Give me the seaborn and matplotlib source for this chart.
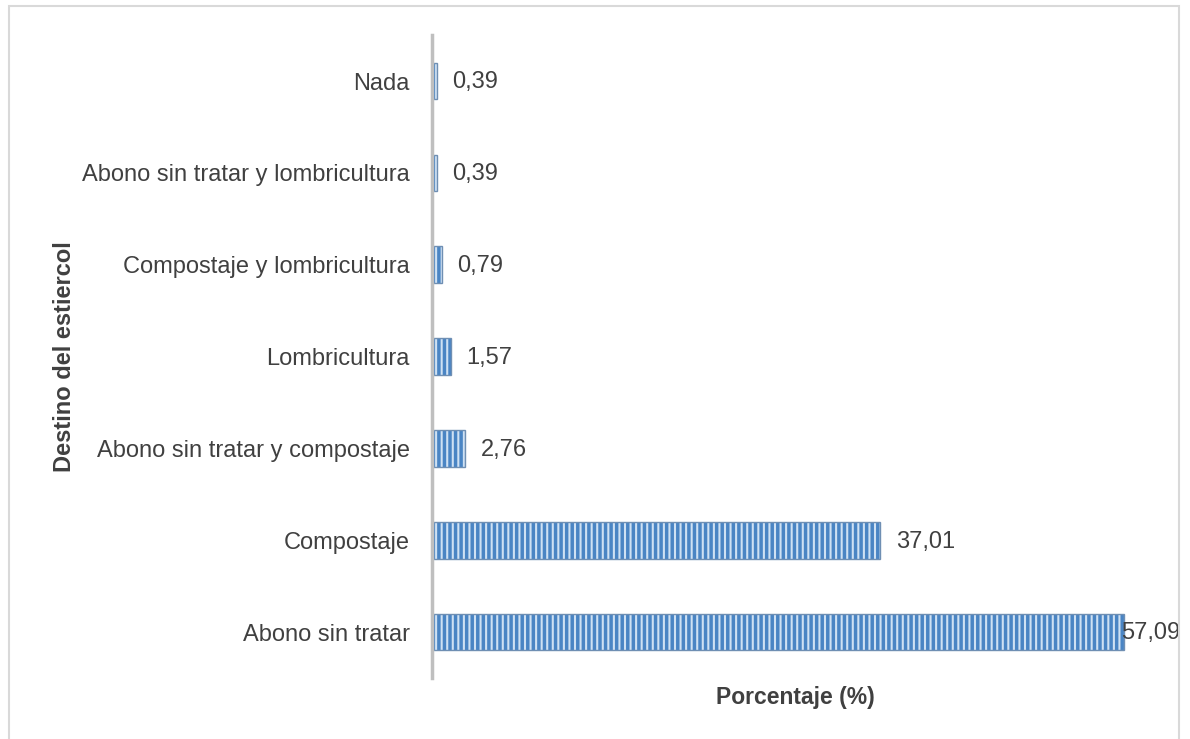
import matplotlib
matplotlib.use("Agg")
import matplotlib.pyplot as plt
from matplotlib.patches import Rectangle
import seaborn as sns
import pandas as pd

categories = [
    "Nada",
    "Abono sin tratar y lombricultura",
    "Compostaje y lombricultura",
    "Lombricultura",
    "Abono sin tratar y compostaje",
    "Compostaje",
    "Abono sin tratar",
]
values = [0.39, 0.39, 0.79, 1.57, 2.76, 37.01, 57.09]
value_labels = ["0,39", "0,39", "0,79", "1,57", "2,76", "37,01", "57,09"]

df = pd.DataFrame({"destino": categories, "pct": values})

sns.set_theme(style="white")
plt.rcParams["font.family"] = ["Liberation Sans", "DejaVu Sans"]
plt.rcParams["hatch.linewidth"] = 1.5

fig = plt.figure(figsize=(11.9, 7.39), dpi=100)
ax = fig.add_axes([0.363, 0.0825, 0.611, 0.870])

# striped fill
sns.barplot(data=df, y="destino", x="pct", order=categories, orient="h",
            color="#4a85c4", width=0.40, ax=ax, saturation=1)
for p in ax.patches:
    p.set_hatch("|||")
    p.set_edgecolor("#cfe1f3")
    p.set_linewidth(0)

# outline
sns.barplot(data=df, y="destino", x="pct", order=categories, orient="h",
            fill=False, edgecolor="#6f8fb3", linewidth=1.0, width=0.40,
            ax=ax)

ax.set_xlim(0, 60)
ax.set_ylim(6.5, -0.5)

for i, (v, lab) in enumerate(zip(values, value_labels)):
    off = -2 if v > 50 else 11
    ax.annotate(lab, xy=(v, i), xytext=(off, -1), textcoords="offset points",
                ha="left", va="center", fontsize=17, color="#404040")

ax.set_xticks([])
ax.tick_params(axis="y", length=0, pad=16, labelsize=17, labelcolor="#404040")
for s in ["top", "right", "bottom"]:
    ax.spines[s].set_visible(False)
ax.spines["left"].set_color("#bfbfbf")
ax.spines["left"].set_linewidth(2.5)

ax.set_ylabel("Destino del estiercol", fontsize=17, fontweight="bold",
              color="#404040")
ax.yaxis.set_label_coords(-0.49, 0.5)
ax.set_xlabel("Porcentaje (%)", fontsize=16.5, fontweight="bold",
              color="#404040", labelpad=6)

fig.patches.append(Rectangle((9 / 1190, -0.02), 1170 / 1190, 1 - 6 / 739 + 0.02,
                             transform=fig.transFigure, fill=False,
                             edgecolor="#d9d9d9", linewidth=1.5))

fig.savefig("out.png", dpi=100)
